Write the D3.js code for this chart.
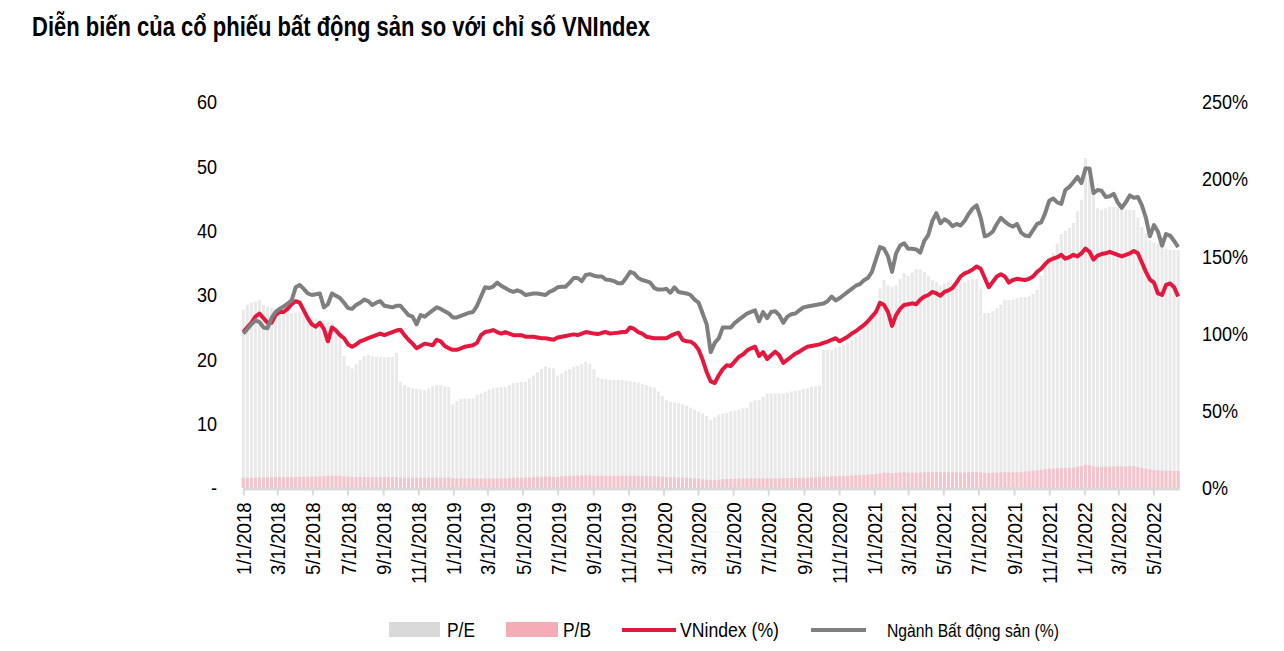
<!DOCTYPE html>
<html>
<head>
<meta charset="utf-8">
<script src="https://cdn.jsdelivr.net/npm/d3@7"></script>
<style>
  html, body { margin: 0; padding: 0; background: #fff; }
  svg { display: block; }
  text { font-family: "Liberation Sans", Arial, sans-serif; fill: #000; }
</style>
</head>
<body>
<svg id="chart" width="1284" height="651"></svg>
<script>
// ---------------- DATA ----------------
const titleText = "Diễn biến của cổ phiếu bất động sản so với chỉ số VNIndex";
const firstWeek = "2018-01-01";   // weekly observations start here
const axisEnd = "2022-06-15";

const xTickLabels = ["1/1/2018","3/1/2018","5/1/2018","7/1/2018","9/1/2018","11/1/2018",
  "1/1/2019","3/1/2019","5/1/2019","7/1/2019","9/1/2019","11/1/2019",
  "1/1/2020","3/1/2020","5/1/2020","7/1/2020","9/1/2020","11/1/2020",
  "1/1/2021","3/1/2021","5/1/2021","7/1/2021","9/1/2021","11/1/2021",
  "1/1/2022","3/1/2022","5/1/2022"];
const leftTicks = [0, 10, 20, 30, 40, 50, 60];
const rightTicks = [0, 50, 100, 150, 200, 250];
const legendLabels = ["P/E", "P/B", "VNindex (%)", "Ngành Bất động sản (%)"];

// P/E (left axis)
const peValues = [
  27.7,28.5,28.8,29,29.2,28.5,28.2,28,27.8,27.7,
  27.5,27.4,27.2,27.3,27.4,27.4,27,26.6,26.3,26.1,
  26,25.8,25.6,25,23.5,20.5,19,18.6,19.2,19.9,
  20.5,20.7,20.5,20.4,20.4,20.3,20.4,20.4,21,16.5,
  16,15.7,15.5,15.4,15.3,15.2,15.5,15.8,16,16,
  15.8,15.7,13,13.5,13.9,13.9,13.9,13.9,14.5,14.7,
  15,15.3,15.5,15.6,15.7,15.7,16,16.3,16.4,16.5,
  16.5,17,17.5,18,18.5,18.9,18.7,18.6,17.5,17.8,
  18.2,18.5,18.8,19,19.3,19.6,19.3,18.5,17.2,17,
  16.9,16.8,16.8,16.8,16.8,16.7,16.6,16.5,16.4,16.2,
  16,15.8,15.6,15,14.3,13.7,13.4,13.3,13.2,13,
  12.8,12.5,12.2,11.9,11.6,11.2,10.6,11,11.4,11.6,
  11.7,11.9,12,12.2,12.4,12.5,13.4,13.6,13.7,14.2,
  14.7,14.7,14.7,14.7,14.7,14.8,15,15.1,15.2,15.4,
  15.5,15.7,15.8,15.9,21.5,21.5,21.5,21.8,22,22.3,
  22.6,23,23.5,24,25,26,26.8,27.7,31,32.3,
  31.5,31.3,31.5,32.5,33.4,33,33.5,34,34,33.6,
  33,32.3,32,31.5,31.8,32,31.8,31.8,31.8,32,
  32.3,32.5,32.5,31,27.2,27.2,27.5,28,28.5,29.2,
  29.2,29.3,29.5,29.7,29.7,29.8,30.2,30.8,33,35.4,
  35.6,36.5,38,39.5,40,40.5,41.2,43,44.8,51.3,
  48,45.9,43.5,43.2,43.5,43.7,43.7,43.7,43.5,43.3,
  43.2,43.2,42,40.6,39.5,38.5,38.2,38,37.5,37.2,
  37,37,37
];

// P/B (left axis)
const pbValues = [
  1.6,1.6,1.6,1.6,1.65,1.65,1.65,1.65,1.7,1.7,
  1.7,1.7,1.7,1.7,1.75,1.75,1.75,1.75,1.8,1.8,
  1.85,1.9,1.9,1.9,1.9,1.85,1.75,1.7,1.7,1.7,
  1.7,1.7,1.7,1.7,1.7,1.7,1.7,1.7,1.7,1.6,
  1.6,1.6,1.6,1.6,1.6,1.6,1.6,1.6,1.6,1.6,
  1.6,1.6,1.5,1.5,1.5,1.5,1.5,1.5,1.5,1.5,
  1.5,1.5,1.5,1.5,1.5,1.5,1.55,1.6,1.6,1.6,
  1.65,1.65,1.7,1.7,1.75,1.75,1.75,1.75,1.7,1.8,
  1.85,1.9,1.9,1.9,1.95,1.95,1.95,1.9,1.9,1.9,
  1.9,1.9,1.9,1.9,1.9,1.9,1.9,1.9,1.9,1.85,
  1.85,1.85,1.8,1.8,1.75,1.7,1.7,1.65,1.65,1.6,
  1.6,1.55,1.5,1.45,1.35,1.3,1.25,1.25,1.3,1.35,
  1.4,1.4,1.45,1.45,1.5,1.5,1.5,1.5,1.5,1.5,
  1.5,1.5,1.5,1.5,1.5,1.5,1.55,1.55,1.6,1.6,
  1.6,1.65,1.65,1.7,1.75,1.75,1.8,1.8,1.85,1.85,
  1.9,1.95,2.0,2.0,2.05,2.1,2.1,2.15,2.3,2.4,
  2.35,2.3,2.35,2.4,2.45,2.4,2.4,2.4,2.4,2.45,
  2.45,2.5,2.5,2.45,2.45,2.45,2.45,2.4,2.4,2.4,
  2.45,2.5,2.5,2.45,2.35,2.35,2.4,2.4,2.45,2.45,
  2.45,2.45,2.45,2.5,2.55,2.6,2.7,2.75,2.85,2.95,
  3.0,3.0,3.05,3.1,3.1,3.15,3.2,3.3,3.4,3.6,
  3.5,3.35,3.3,3.3,3.3,3.35,3.35,3.4,3.35,3.35,
  3.4,3.4,3.3,3.1,3.0,2.9,2.8,2.75,2.7,2.7,
  2.7,2.65,2.65
];

// VNindex (%) (right axis)
const vnIndexPct = [
  101,104,107,111,113,110,107,107,112,114,
  114,116,119,121,120,115,110,106,104.5,107,
  103,95,104,102,99,97,93,91.5,93,95,
  96,97,98,99,100,99,100,101,102,102.5,
  99,96,93.5,90.5,92,93.5,93,92.5,96,95,
  92,90.5,89.5,89.5,90.5,91.5,92,92.5,94,99,
  101,101.5,102.3,101,100,101,100,99,99,99,
  98,98,98,97.5,97,97,96.5,96,97.5,98,
  98.5,99,99.5,99,100,101,100.5,100,99.7,100.5,
  101,100,100.3,100.6,101,101,104,103,101,100,
  98,97.5,97,97,97,97,98.5,99.7,100.6,96,
  95,94.8,93,89.5,83,75,69,68,73,77,
  79.5,79,82,85,86.5,89,90.5,91.5,85.5,88,
  83.5,86,88.3,86,81,83,85,87,88.3,90,
  91.5,92,92.5,93,94,94.8,96,97,95,96.5,
  98,100,101.5,103.5,105.5,108,111,114,120,118.5,
  114,105,112,116,118.5,119,119.6,119,122,124,
  125,127,126,124.5,127,128,129.5,133,137,139,
  140,141.5,143.5,142,136,130,133.5,137,138.5,137,
  133,134.7,135.5,135,134.7,135.5,137,140,142,145,
  147.5,148.5,149.5,151,148.5,149.5,151,150,152,155,
  153,148,150.5,151.5,152,153,152,151,150,151,
  152,153.5,152,146,140,135,133,126,125,131.5,
  132.5,130,124
];

// Ngành Bất động sản (%) (right axis)
const realEstatePct = [
  100,103,106,108.5,107.5,104,103.5,110,114,116,
  117.5,119.5,121.5,130,131.5,129,126,125,125.5,126,
  117,119,126,124.5,123,120,116.5,116,118.5,120,
  122,121,118.5,120,121,118,117.5,117,118,118,
  115,112,111,106,112,111,113,115,117,116,
  114.5,113,110.5,110.5,111.5,112.5,113.5,114,118,124,
  130,129.5,130.5,133,131,129.5,128,127,128,127,
  125,125.5,126,126,125.5,125,127,128.2,130,130.4,
  130.4,133,136,136,134,138,138.5,137.5,137,137,
  135,134.7,134,132.6,132.6,136,140,139,136,134.7,
  134,133,129.5,128.5,128.5,129,126.5,130,127,126.5,
  126,125,122,120,113,106,88,94,97,104,
  104,104,107,109,111,113,114,115,108,114,
  110,114,114.5,112,107,111,112.5,113,115,117,
  117.5,118,118.5,119,119.5,121,124,121.5,123,125,
  127,129,131,132,134.5,136,140,148,156,155,
  150,140,152,157,158.5,155,155,154.5,152.5,160,
  164,173,178,171.5,174,172.5,169.5,171,170,173,
  177.5,181,183,175,163,164,166,171,175,172.5,
  170.5,169.3,171,165.5,163.5,163,167,171,172,178,
  186,187.5,185,184,193,195,198,201.5,197.5,207,
  207,191,193,192.5,188.5,189,190.5,185,181.5,185,
  189.5,188,188.5,183,175,163,170.3,166,157,164.5,
  163.5,160,156
];

// ---------------- CHART ----------------
const parseISO = d3.timeParse("%Y-%m-%d");
const parseTick = d3.timeParse("%m/%d/%Y");
const start = parseISO(firstWeek);
const dates = peValues.map((_, i) => d3.timeDay.offset(start, 7 * i));
const rows = dates.map((d, i) => ({ date: d, pe: peValues[i], pb: pbValues[i], vn: vnIndexPct[i], re: realEstatePct[i] }));

const svg = d3.select("#chart");
const x = d3.scaleTime().domain([start, parseISO(axisEnd)]).range([243.3, 1179.3]);
const yL = d3.scaleLinear().domain([0, 60]).range([488, 102]);
const yR = d3.scaleLinear().domain([0, 250]).range([488, 102]);
const NARROW = 0.86;

// Title
svg.append("text")
  .attr("x", 32).attr("y", 36)
  .attr("font-size", 28).attr("font-weight", "bold")
  .attr("textLength", 618).attr("lengthAdjust", "spacingAndGlyphs")
  .text(titleText);

const barW = 3;
// P/E bars
svg.append("g").selectAll("rect").data(rows).join("rect")
  .attr("x", d => x(d.date) - barW / 2)
  .attr("width", barW)
  .attr("y", d => yL(d.pe))
  .attr("height", d => yL(0) - yL(d.pe))
  .attr("fill", "#e9e9e9");

// P/B bars
svg.append("g").selectAll("rect").data(rows).join("rect")
  .attr("x", d => x(d.date) - barW / 2)
  .attr("width", barW)
  .attr("y", d => yL(d.pb))
  .attr("height", d => yL(0) - yL(d.pb))
  .attr("fill", "#f5c3cb");

// X axis
const tickDates = xTickLabels.map(parseTick);
const xAxis = svg.append("g")
  .attr("transform", "translate(0,488.5)")
  .call(d3.axisBottom(x).tickValues(tickDates).tickFormat((d, i) => xTickLabels[i]).tickSize(7).tickSizeOuter(0));
xAxis.select(".domain").attr("stroke", "#d9d9d9").attr("stroke-width", 3);
xAxis.selectAll(".tick line").attr("stroke", "#d9d9d9").attr("stroke-width", 2);
xAxis.selectAll(".tick text")
  .attr("font-family", "Liberation Sans, Arial, sans-serif")
  .attr("font-size", 21)
  .attr("fill", "#000")
  .attr("text-anchor", "end")
  .attr("transform", `rotate(-90) scale(${NARROW + 0.03},1)`)
  .attr("x", -15.5).attr("y", 0).attr("dy", "0.36em");

// Left axis
const leftAxis = svg.append("g")
  .attr("transform", "translate(217,0)")
  .call(d3.axisLeft(yL).tickValues(leftTicks).tickFormat(d => d === 0 ? "-" : d).tickSize(0).tickPadding(0));
leftAxis.select(".domain").remove();
leftAxis.selectAll("text").attr("font-family", "Liberation Sans, Arial, sans-serif").attr("font-size", 21).attr("fill", "#000")
  .attr("transform", `scale(${NARROW},1)`).attr("x", 0);

// Right axis
const rightAxis = svg.append("g")
  .attr("transform", "translate(1202,0)")
  .call(d3.axisRight(yR).tickValues(rightTicks).tickFormat(d => d + "%").tickSize(0).tickPadding(0));
rightAxis.select(".domain").remove();
rightAxis.selectAll("text").attr("font-family", "Liberation Sans, Arial, sans-serif").attr("font-size", 21).attr("fill", "#000")
  .attr("transform", `scale(${NARROW},1)`).attr("x", 0);

// Lines
const lineVN = d3.line().x(d => x(d.date)).y(d => yR(d.vn));
const lineRE = d3.line().x(d => x(d.date)).y(d => yR(d.re));
svg.append("path").datum(rows).attr("d", lineVN)
  .attr("fill", "none").attr("stroke", "#e4173e").attr("stroke-width", 4).attr("stroke-linejoin", "round");
svg.append("path").datum(rows).attr("d", lineRE)
  .attr("fill", "none").attr("stroke", "#7f7f7f").attr("stroke-width", 4).attr("stroke-linejoin", "round");

// Legend
const lg = svg.append("g");
lg.append("rect").attr("x", 389).attr("y", 622).attr("width", 51).attr("height", 15).attr("fill", "#d9d9d9");
lg.append("text").attr("x", 447).attr("y", 637).attr("font-size", 20).attr("textLength", 28).attr("lengthAdjust", "spacingAndGlyphs").text(legendLabels[0]);
lg.append("rect").attr("x", 506).attr("y", 622).attr("width", 52).attr("height", 15).attr("fill", "#f4acb7");
lg.append("text").attr("x", 563).attr("y", 637).attr("font-size", 20).attr("textLength", 28).attr("lengthAdjust", "spacingAndGlyphs").text(legendLabels[1]);
lg.append("line").attr("x1", 622).attr("x2", 676).attr("y1", 630).attr("y2", 630).attr("stroke", "#e4173e").attr("stroke-width", 4);
lg.append("text").attr("x", 680).attr("y", 637).attr("font-size", 20).attr("textLength", 99).attr("lengthAdjust", "spacingAndGlyphs").text(legendLabels[2]);
lg.append("line").attr("x1", 811).attr("x2", 866).attr("y1", 630).attr("y2", 630).attr("stroke", "#7f7f7f").attr("stroke-width", 4);
lg.append("text").attr("x", 887).attr("y", 637).attr("font-size", 18).attr("textLength", 172).attr("lengthAdjust", "spacingAndGlyphs").text(legendLabels[3]);
</script>
</body>
</html>
